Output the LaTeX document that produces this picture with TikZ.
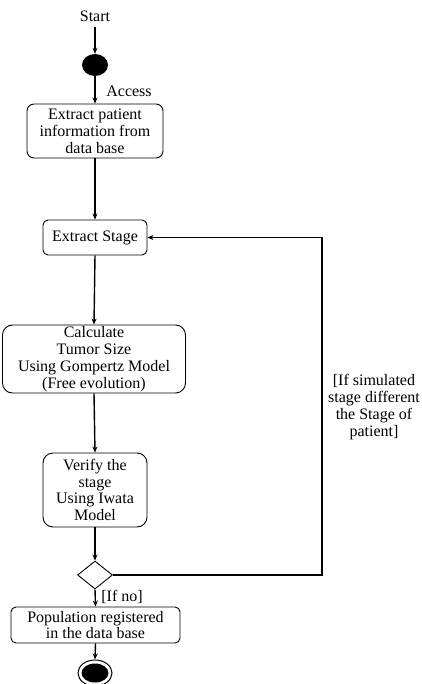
\documentclass[tikz,border=0pt]{standalone}
\usepackage{fontspec}
\setmainfont{Liberation Serif}
\usetikzlibrary{shapes.geometric,arrows.meta}

\begin{document}
\begin{tikzpicture}[x=1pt,y=-1pt,
  every node/.style={font=\fontsize{16}{16.8}\selectfont, inner sep=0pt},
  action/.style={draw, line width=0.9pt, rounded corners=#1, align=center},
  action/.default=6pt,
  flow/.style={line width=1.4pt, -{Stealth[length=6pt,width=5pt]}},
  note/.style={align=center}
]
\useasboundingbox (0,0) rectangle (421,684);

% start
\node (starttxt) at (95,16) {Start};
\node[ellipse, fill=black, minimum width=26pt, minimum height=22pt] (init) at (95,65) {};

% actions
\node[action=7pt, minimum width=136pt, minimum height=54pt] (b1) at (95,131)
  {Extract patient\\information from\\data base};
\node[action=5pt, minimum width=104pt, minimum height=35pt] (b2) at (95,237.5)
  {Extract Stage};
\node[action=10pt, minimum width=183pt, minimum height=68pt] (b3) at (94,359)
  {Calculate\\Tumor Size\\Using Gompertz Model\\(Free evolution)};
\node[action=10pt, minimum width=104pt, minimum height=74pt] (b4) at (95,490)
  {Verify the\\stage\\Using Iwata\\Model};
\node[diamond, draw, line width=0.9pt, minimum width=35pt, minimum height=28pt, aspect=1.25] (dec) at (95,575) {};
\node[action=5pt, minimum width=169pt, minimum height=36pt] (b5) at (95.5,625)
  {Population registered\\in the data base};

% final node
\node[ellipse, draw, line width=1pt, minimum width=34pt, minimum height=26pt] (final) at (95,673) {};
\node[ellipse, fill=black, minimum width=27pt, minimum height=19pt] (finalin) at (final.center) {};

% flows
\draw[flow] (starttxt.south |- 0,27) -- (init.north);
\draw[flow] (init.south) -- (b1.north);
\node (acc) at (129,91) {Access};
\draw[flow] (b1.south) -- (b2.north);
\draw[flow] (b2.south) -- (b3.north);
\draw[flow] (b3.south) -- (b4.north);
\draw[flow] (b4.south) -- (dec.north);
\draw[flow] (dec.south) -- (b5.north);
\node (ifno) at (122,597) {[If no]};
\draw[flow] (b5.south) -- (final.north);

% loop back
\coordinate (turn) at (322,575);
\draw[flow] (dec.east) -- (turn) |- (b2.east);
\node[note] (cond) at (374,407)
  {[If simulated\\stage different\\the Stage of\\patient]};
\end{tikzpicture}
\end{document}
